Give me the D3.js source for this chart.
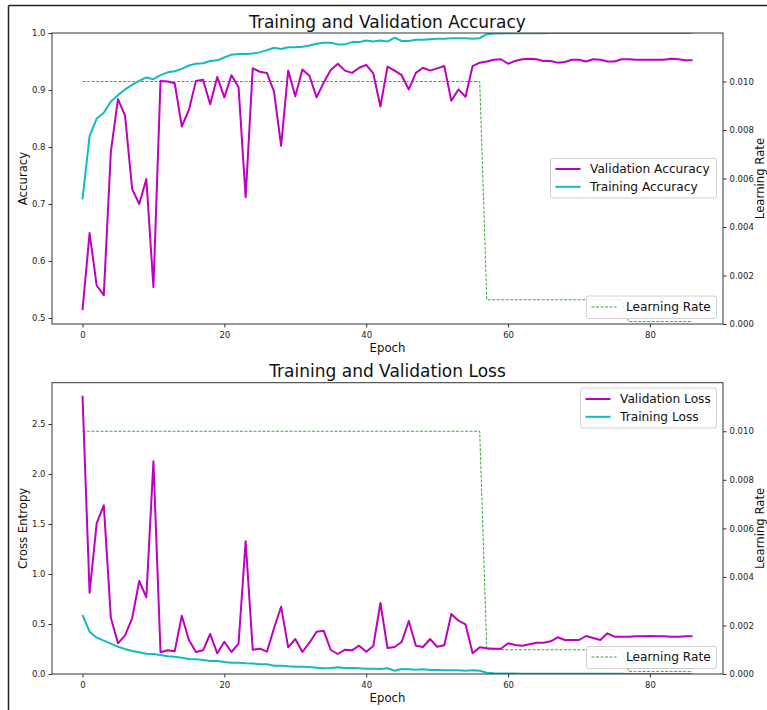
<!DOCTYPE html>
<html>
<head>
<meta charset="utf-8">
<script src="https://cdn.jsdelivr.net/npm/d3@7"></script>
<style>
  body { margin: 0; background: #fff; }
  svg { display: block; font-family: "DejaVu Sans", sans-serif; }
  .axis path, .axis line { stroke: #333; }
  .axis text { fill: #222; font-size: 8.5px; font-family: "DejaVu Sans", sans-serif; }
</style>
</head>
<body>
<div id="chart"></div>
<script>
// epochs 0..86
const epochs = d3.range(0, 87);

const valAcc = [0.514, 0.649, 0.557, 0.540, 0.792, 0.884, 0.855, 0.726, 0.700, 0.744,
  0.554, 0.916, 0.915, 0.912, 0.836, 0.865, 0.916, 0.918, 0.875, 0.923,
  0.887, 0.926, 0.905, 0.712, 0.938, 0.932, 0.930, 0.897, 0.802, 0.934,
  0.889, 0.936, 0.925, 0.887, 0.913, 0.935, 0.946, 0.934, 0.930, 0.939,
  0.944, 0.929, 0.871, 0.941, 0.934, 0.926, 0.901, 0.930, 0.939, 0.934,
  0.938, 0.942, 0.881, 0.901, 0.888, 0.942, 0.948, 0.950, 0.953, 0.954,
  0.946, 0.951, 0.954, 0.955, 0.954, 0.951, 0.951, 0.948, 0.949, 0.953,
  0.953, 0.950, 0.954, 0.953, 0.950, 0.950, 0.954, 0.954, 0.953, 0.953,
  0.953, 0.953, 0.953, 0.955, 0.954, 0.952, 0.952];

const trainAcc = [0.708, 0.819, 0.850, 0.860, 0.880, 0.891, 0.901, 0.909, 0.916, 0.922,
  0.919, 0.926, 0.931, 0.933, 0.937, 0.943, 0.946, 0.947, 0.951, 0.952,
  0.957, 0.962, 0.963, 0.963, 0.964, 0.966, 0.970, 0.974, 0.972, 0.975,
  0.975, 0.976, 0.978, 0.981, 0.983, 0.983, 0.980, 0.980, 0.984, 0.984,
  0.987, 0.985, 0.987, 0.985, 0.992, 0.986, 0.986, 0.988, 0.988, 0.989,
  0.990, 0.990, 0.991, 0.991, 0.991, 0.990, 0.991, 0.998, 0.999, 0.9992,
  0.9994, 0.9995, 0.9996, 0.9996, 0.9997, 0.9997, 0.9998, 0.9998, 0.9998, 0.9998,
  0.9999, 0.9999, 0.9999, 0.9999, 0.9999, 0.9999, 0.9999, 1.0, 1.0, 1.0,
  1.0, 1.0, 1.0, 1.0, 1.0, 1.0, 1.0];

const valLoss = [2.783, 0.813, 1.507, 1.687, 0.563, 0.307, 0.387, 0.557, 0.930, 0.767,
  2.127, 0.217, 0.237, 0.227, 0.583, 0.340, 0.220, 0.237, 0.400, 0.207,
  0.323, 0.220, 0.303, 1.327, 0.242, 0.253, 0.223, 0.457, 0.673, 0.267,
  0.350, 0.220, 0.313, 0.423, 0.433, 0.240, 0.200, 0.243, 0.237, 0.283,
  0.223, 0.280, 0.710, 0.260, 0.270, 0.320, 0.530, 0.283, 0.270, 0.350,
  0.273, 0.287, 0.600, 0.533, 0.497, 0.207, 0.267, 0.258, 0.253, 0.253,
  0.307, 0.290, 0.283, 0.297, 0.313, 0.313, 0.327, 0.367, 0.340, 0.340,
  0.340, 0.380, 0.360, 0.340, 0.407, 0.373, 0.373, 0.373, 0.377, 0.377,
  0.380, 0.377, 0.377, 0.373, 0.373, 0.377, 0.377];

const trainLoss = [0.590, 0.423, 0.363, 0.333, 0.303, 0.273, 0.250, 0.230, 0.217, 0.203,
  0.200, 0.190, 0.177, 0.173, 0.163, 0.150, 0.147, 0.140, 0.130, 0.130,
  0.120, 0.113, 0.113, 0.107, 0.105, 0.097, 0.097, 0.082, 0.083, 0.077,
  0.073, 0.073, 0.070, 0.063, 0.057, 0.060, 0.067, 0.060, 0.060, 0.057,
  0.053, 0.053, 0.050, 0.057, 0.033, 0.050, 0.047, 0.043, 0.047, 0.040,
  0.040, 0.037, 0.037, 0.037, 0.033, 0.037, 0.033, 0.013, 0.007, 0.005,
  0.004, 0.004, 0.003, 0.003, 0.003, 0.003, 0.002, 0.002, 0.002, 0.002,
  0.002, 0.002, 0.002, 0.002, 0.002, 0.002, 0.002, 0.001, 0.001, 0.001,
  0.001, 0.001, 0.001, 0.001, 0.001, 0.001, 0.001];

// learning rate schedule: 0.01 up to epoch 56, 0.001 to 76, 0.0001 after
const learningRate = epochs.map(e => e <= 56 ? 0.01 : (e <= 76 ? 0.001 : 0.0001));

const xTicks = [0, 20, 40, 60, 80];
const accTicks = [0.5, 0.6, 0.7, 0.8, 0.9, 1.0];
const lossTicks = [0.0, 0.5, 1.0, 1.5, 2.0, 2.5];
const lrTicks = [0.000, 0.002, 0.004, 0.006, 0.008, 0.010];

const colors = {
  val: '#bf00bf',
  train: '#12bcbc',
  lr: '#3aa83a',
  spine: '#333',
  text: '#111'
};

const W = 767, H = 710;
const svg = d3.select('#chart').append('svg')
  .attr('width', W)
  .attr('height', H);

// outer frame (top and left edges only are visible)
svg.append('line').attr('x1', 8.5).attr('x2', W).attr('y1', 5.5).attr('y2', 5.5)
  .attr('stroke', '#222').attr('stroke-width', 1.5);
svg.append('line').attr('x1', 8.5).attr('x2', 8.5).attr('y1', 5.5).attr('y2', H)
  .attr('stroke', '#222').attr('stroke-width', 1.5);

function drawPanel(opt) {
  let left = 52, right = 723;
  let top = opt.top, bottom = opt.bottom;

  let x = d3.scaleLinear().domain([-4.3, 90.3]).range([left, right]);
  let y = d3.scaleLinear().domain(opt.yDomain).range([bottom, top]);
  let y2 = d3.scaleLinear().domain([0, 0.012]).range([bottom, top]);

  let g = svg.append('g');

  let clipId = 'clip-' + opt.id;
  g.append('clipPath').attr('id', clipId)
    .append('rect').attr('x', left).attr('y', top)
    .attr('width', right - left).attr('height', bottom - top);

  let plot = g.append('g').attr('clip-path', 'url(#' + clipId + ')');

  // learning rate (twin axis), drawn first as in the original
  plot.append('path')
    .datum(learningRate)
    .attr('fill', 'none')
    .attr('stroke', colors.lr)
    .attr('stroke-width', 1)
    .attr('stroke-dasharray', '3,1.5')
    .attr('d', d3.line().x((d, i) => x(epochs[i])).y(d => y2(d)));

  let line = d3.line().x((d, i) => x(epochs[i])).y(d => y(d));

  plot.append('path').datum(opt.train)
    .attr('fill', 'none').attr('stroke', colors.train).attr('stroke-width', 2)
    .attr('stroke-linejoin', 'round')
    .attr('d', line);

  plot.append('path').datum(opt.val)
    .attr('fill', 'none').attr('stroke', colors.val).attr('stroke-width', 2)
    .attr('stroke-linejoin', 'round')
    .attr('d', line);

  // spines
  g.append('rect').attr('x', left).attr('y', top)
    .attr('width', right - left).attr('height', bottom - top)
    .attr('fill', 'none').attr('stroke', colors.spine).attr('stroke-width', 1);

  // axes
  g.append('g').attr('class', 'axis')
    .attr('transform', 'translate(0,' + bottom + ')')
    .call(d3.axisBottom(x).tickValues(xTicks).tickFormat(d3.format('d')).tickSize(3.5).tickPadding(4))
    .call(a => a.select('.domain').remove());

  g.append('g').attr('class', 'axis')
    .attr('transform', 'translate(' + left + ',0)')
    .call(d3.axisLeft(y).tickValues(opt.yTicks).tickFormat(d3.format('.1f')).tickSize(3.5).tickPadding(3))
    .call(a => a.select('.domain').remove());

  g.append('g').attr('class', 'axis')
    .attr('transform', 'translate(' + right + ',0)')
    .call(d3.axisRight(y2).tickValues(lrTicks).tickFormat(d3.format('.3f')).tickSize(3.5).tickPadding(3))
    .call(a => a.select('.domain').remove());

  // titles and labels
  g.append('text')
    .attr('x', (left + right) / 2).attr('y', top - 5.5)
    .attr('text-anchor', 'middle')
    .style('font-size', '17px').attr('fill', colors.text)
    .text(opt.title);

  g.append('text')
    .attr('x', (left + right) / 2).attr('y', bottom + 27.5)
    .attr('text-anchor', 'middle')
    .style('font-size', '11.7px').attr('fill', colors.text)
    .text('Epoch');

  g.append('text')
    .attr('transform', 'translate(27,' + ((top + bottom) / 2) + ') rotate(-90)')
    .attr('text-anchor', 'middle')
    .style('font-size', '11.7px').attr('fill', colors.text)
    .text(opt.yLabel);

  g.append('text')
    .attr('transform', 'translate(763.5,' + ((top + bottom) / 2) + ') rotate(-90)')
    .attr('text-anchor', 'middle')
    .style('font-size', '11.7px').attr('fill', colors.text)
    .text('Learning Rate');

  // legends
  drawLegend(g, opt.legendBox, [
    {label: opt.valName, color: colors.val, dash: null, width: 2},
    {label: opt.trainName, color: colors.train, dash: null, width: 2}
  ]);
  drawLegend(g, opt.lrBox, [
    {label: 'Learning Rate', color: colors.lr, dash: '3,1.5', width: 1}
  ]);
}

function drawLegend(g, box, items) {
  let lg = g.append('g');
  lg.append('rect')
    .attr('x', box.x).attr('y', box.y)
    .attr('width', box.w).attr('height', box.h)
    .attr('rx', 2.5)
    .attr('fill', 'rgba(255,255,255,0.85)')
    .attr('stroke', '#d0d0d0').attr('stroke-width', 1);
  items.forEach((it, i) => {
    let cy = box.y + box.pad + i * 17.8;
    lg.append('line')
      .attr('x1', box.x + 5).attr('x2', box.x + 30)
      .attr('y1', cy).attr('y2', cy)
      .attr('stroke', it.color).attr('stroke-width', it.width)
      .attr('stroke-dasharray', it.dash);
    lg.append('text')
      .attr('x', box.x + box.tx).attr('y', cy + 4.3)
      .style('font-size', '12.2px').attr('fill', colors.text)
      .text(it.label);
  });
}

drawPanel({
  id: 'acc', top: 33, bottom: 324,
  yDomain: [0.4895, 1.0], yTicks: accTicks,
  val: valAcc, train: trainAcc,
  title: 'Training and Validation Accuracy', yLabel: 'Accuracy',
  valName: 'Validation Accuracy', trainName: 'Training Accuracy',
  legendBox: {x: 550.5, y: 158.5, w: 166, h: 39.5, pad: 10.5, tx: 39.5},
  lrBox: {x: 586.5, y: 296, w: 130, h: 22.5, pad: 11, tx: 39.5}
});

drawPanel({
  id: 'loss', top: 382.7, bottom: 674,
  yDomain: [0, 2.913], yTicks: lossTicks,
  val: valLoss, train: trainLoss,
  title: 'Training and Validation Loss', yLabel: 'Cross Entropy',
  valName: 'Validation Loss', trainName: 'Training Loss',
  legendBox: {x: 580.5, y: 388, w: 136, h: 40, pad: 11, tx: 39.5},
  lrBox: {x: 586.5, y: 646.5, w: 130, h: 22, pad: 10.5, tx: 39.5}
});
</script>
</body>
</html>
